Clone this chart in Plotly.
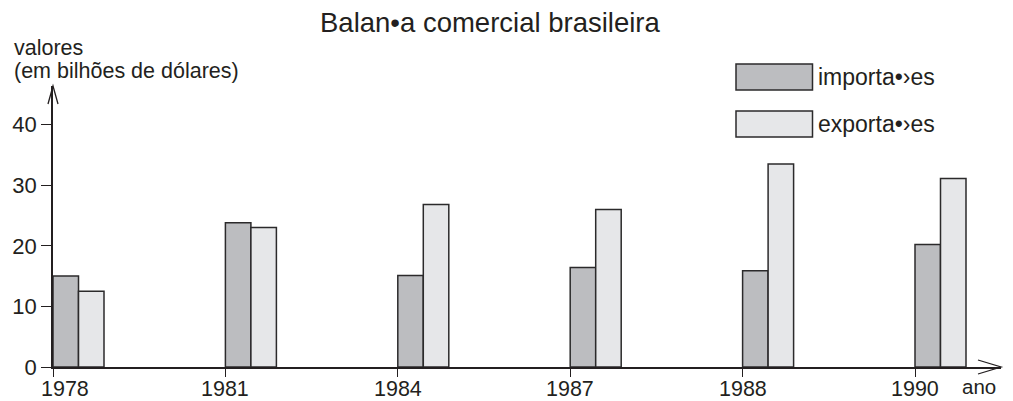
import plotly.graph_objects as go

# ---- data ----
years = ["1978", "1981", "1984", "1987", "1988", "1990"]
importacoes = [15.0, 23.8, 15.1, 16.4, 15.9, 20.2]
exportacoes = [12.5, 23.0, 26.8, 26.0, 33.5, 31.1]
series_names = ["importa•›es", "exporta•›es"]
y_ticks = [0, 10, 20, 30, 40]
title_text = "Balan•a comercial brasileira"
y_title_lines = ["valores", "(em bilhões de dólares)"]
x_title = "ano"

# ---- layout geometry (pixels) ----
W, H = 1013, 401
ML, MR, MT, MB = 53, 12, 86, 34
PW = W - ML - MR          # plot width
PH = H - MT - MB          # plot height
CAT_PX = 172.4            # pixels between categories
BAR_PX = 25.5             # pixel width of a bar
PX_PER_UNIT = 6.06        # pixels per billion

xr = PW / CAT_PX
yr = PH / PX_PER_UNIT
bw = BAR_PX / CAT_PX

def px_x(p):
    return (p - ML) / PW

def px_y(p):
    return (H - MB - p) / PH

TXT = "#231f20"
LINE = "#2b2a2b"
DARK = "#bcbdc0"
LIGHT = "#e6e7e9"
FONT = "Liberation Sans, Arial, sans-serif"

xpos = list(range(len(years)))

fig = go.Figure()
fig.add_trace(go.Bar(
    x=xpos, y=importacoes, name=series_names[0], width=bw, offset=0,
    marker=dict(color=DARK, line=dict(color=LINE, width=1.5)),
    showlegend=False,
))
fig.add_trace(go.Bar(
    x=xpos, y=exportacoes, name=series_names[1], width=bw, offset=bw,
    marker=dict(color=LIGHT, line=dict(color=LINE, width=1.5)),
    showlegend=False,
))

annotations = []
# x tick labels
for i, yl in enumerate(years):
    annotations.append(dict(
        x=i, y=0, xref="x", yref="y", text=yl, showarrow=False,
        xanchor="center", yanchor="middle", yshift=-21.5,
        xshift=12 if i == 0 else 0, borderpad=0,
        font=dict(size=21.5, color=TXT, family=FONT),
    ))
# x title
annotations.append(dict(
    x=px_x(978.5), y=px_y(386), xref="paper", yref="paper", text=x_title,
    showarrow=False, xanchor="center", yanchor="middle", borderpad=0,
    font=dict(size=20.5, color=TXT, family=FONT),
))
# y title (two lines)
for k, (line, cy) in enumerate(zip(y_title_lines, [48, 71])):
    annotations.append(dict(
        x=px_x(12), y=px_y(cy), xref="paper", yref="paper", text=line,
        showarrow=False, xanchor="left", yanchor="middle",
        font=dict(size=21.5, color=TXT, family=FONT),
    ))
# title
annotations.append(dict(
    x=px_x(489.5), y=px_y(22), xref="paper", yref="paper", text=title_text,
    showarrow=False, xanchor="center", yanchor="middle",
    font=dict(size=27.5, color=TXT, family=FONT),
))

shapes = []
# legend
legend_rows = [(series_names[0], DARK, 64, 90), (series_names[1], LIGHT, 111, 137)]
for name, col, top, bot in legend_rows:
    shapes.append(dict(
        type="rect", xref="paper", yref="paper",
        x0=px_x(736), x1=px_x(812.5), y0=px_y(bot), y1=px_y(top),
        fillcolor=col, line=dict(color=LINE, width=1.5),
    ))
    annotations.append(dict(
        x=px_x(816), y=px_y((top + bot) / 2), xref="paper", yref="paper",
        text=name, showarrow=False, xanchor="left", yanchor="middle",
        font=dict(size=23, color=TXT, family=FONT),
    ))

# axis arrow heads
shapes.append(dict(
    type="path", xref="paper", yref="paper",
    path=f"M {px_x(48)} {px_y(104)} L {px_x(53)} {px_y(86)} L {px_x(58)} {px_y(104)}",
    line=dict(color=TXT, width=1.3),
))
shapes.append(dict(
    type="path", xref="paper", yref="paper",
    path=f"M {px_x(978)} {px_y(360)} L {px_x(1001)} {px_y(367)} L {px_x(978)} {px_y(374)}",
    line=dict(color=TXT, width=1.3),
))

fig.update_layout(
    width=W, height=H,
    margin=dict(l=ML, r=MR, t=MT, b=MB, pad=0),
    paper_bgcolor="white", plot_bgcolor="white",
    barmode="overlay",
    showlegend=False,
    font=dict(family=FONT, color=TXT),
    annotations=annotations,
    shapes=shapes,
    xaxis=dict(
        range=[0, xr], tickvals=xpos, showticklabels=False,
        ticks="outside", ticklen=8, tickwidth=1.3, tickcolor=TXT,
        showline=True, linecolor=TXT, linewidth=1.5,
        showgrid=False, zeroline=False, fixedrange=True,
    ),
    yaxis=dict(
        range=[0, yr], tickvals=y_ticks,
        ticks="outside", ticklen=10, tickwidth=1.3, tickcolor=TXT,
        tickfont=dict(size=22, color=TXT, family=FONT),
        showline=True, linecolor=TXT, linewidth=1.5,
        showgrid=False, zeroline=False, fixedrange=True,
    ),
)

fig.write_html(
    "out.html",
    config=dict(displayModeBar=False),
    post_script="document.body.style.margin='0px';document.body.style.overflow='hidden';",
)
